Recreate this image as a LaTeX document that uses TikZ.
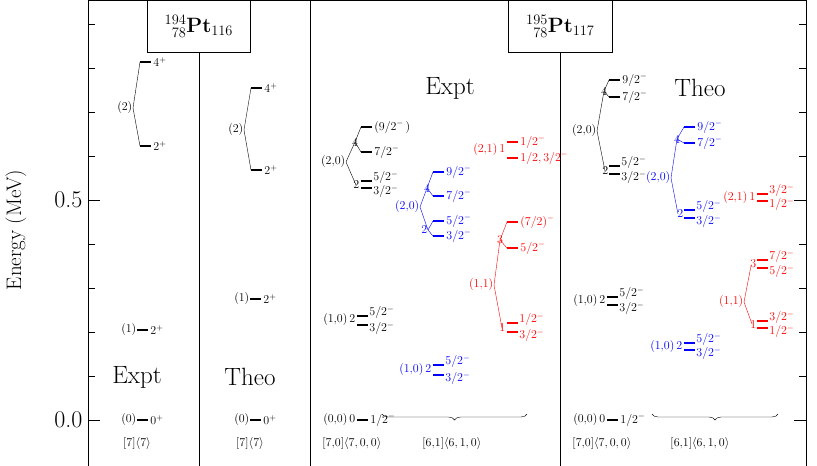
\documentclass[tikz,border=0pt]{standalone}
\usepackage{amsmath}
\usetikzlibrary{positioning,decorations.pathreplacing,calc}
% one unit = one pixel of the reference, y downwards
\newcommand{\lev}[4][black]{%
  \draw[levbar,#1] (#2,#3) -- ++(11,0) node[right,lab,#1,inner sep=1pt]{$#4$};}
% tight doublets: upper label sits above, lower one below
\newcommand{\levu}[4][black]{%
  \draw[levbar,#1] (#2,#3) -- ++(11,0) node[anchor=south west,lab,#1,inner sep=0pt,yshift=-4pt]{$#4$};}
\newcommand{\levd}[4][black]{%
  \draw[levbar,#1] (#2,#3) -- ++(11,0) node[anchor=north west,lab,#1,inner sep=0pt,yshift=4pt]{$#4$};}
\newcommand{\branch}[4][black]{%
  \draw[#1,thin] (#2) -- (#3) (#2) -- (#4);}
\tikzset{
  levbar/.style={line width=2.8pt},
  lab/.style={font=\fontsize{12}{12}\selectfont},
  vlab/.style={font=\fontsize{12}{12}\selectfont,inner sep=0.5pt},
  big/.style={font=\fontsize{25}{25}\selectfont},
  frame/.style={line width=0.8pt},
}
\begin{document}
\begin{tikzpicture}[x=1pt,y=-1pt]
    \useasboundingbox (0,0) rectangle (817,466);
    % frame and panels
    \draw[frame] (88,0) rectangle (806,466);
    \draw[frame] (310,0) -- (310,466);
    \draw[frame] (199,52) -- (199,466);
    \draw[frame] (560,52) -- (560,466);
    \node[draw,frame,fill=white,minimum width=103pt,minimum height=52pt,anchor=north west,font=\fontsize{22}{22}\selectfont,inner sep=1pt] (ttl194) at (147,0)
        {${}^{194}_{\phantom{1}78}\mathbf{Pt}_{116}$};
    \node[draw,frame,fill=white,minimum width=104pt,minimum height=52pt,anchor=north west,font=\fontsize{22}{22}\selectfont,inner sep=1pt] (ttl195) at (508,0)
        {${}^{195}_{\phantom{1}78}\mathbf{Pt}_{117}$};
    % energy axis
    \foreach \e in {0,1,...,9} {
        \draw (88,420-44*\e) -- ++(7,0);
        \draw (806,420-44*\e) -- ++(-7,0);
    }
    \foreach \e in {0,5} {
        \draw (88,420-44*\e) -- ++(12,0);
        \draw (806,420-44*\e) -- ++(-12,0);
    }
    \node[font=\fontsize{24}{24}\selectfont,left] (e0) at (86,420) {0.0};
    \node[font=\fontsize{24}{24}\selectfont,left] (e5) at (86,200) {0.5};
    \node[font=\fontsize{21}{21}\selectfont,rotate=90] (elab) at (16,230) {Energy (MeV)};

    % 194Pt expt
    \node[big] (ex194) at (137,377) {Expt};
    \lev{137}{420}{0^+} \node[vlab,left] (g0a) at (137,420) {(0)};
    \lev{137}{330}{2^+} \node[vlab,left] (g1a) at (137,330) {(1)};
    \lev{140}{146}{2^+} \lev{140}{62}{4^+}
    \coordinate (v2a) at (133,108);
    \node[vlab,left] (g2a) at (v2a) {(2)};
    \branch{v2a}{140,62}{140,146}
    \node[lab] (q194a) at (137,443) {[7]$\langle 7\rangle$};

    % 194Pt theo
    \node[big] (th194) at (250,377) {Theo};
    \lev{250}{420}{0^+} \node[vlab,left] (g0b) at (250,420) {(0)};
    \lev{250}{299}{2^+} \node[vlab,left] (g1b) at (250,299) {(1)};
    \lev{251}{170}{2^+} \lev{251}{88}{4^+}
    \coordinate (v2b) at (244,130);
    \node[vlab,left] (g2b) at (v2b) {(2)};
    \branch{v2b}{251,88}{251,170}
    \node[lab] (q194b) at (250,443) {[7]$\langle 7\rangle$};

    % 195Pt expt
    \node[big] (ex195) at (450,88) {Expt};
    \lev{357}{420}{1/2^-} \node[vlab,left] (a00) at (356,420) {(0,0)\,0};
    \levu{357}{316}{5/2^-} \levd{357}{325}{3/2^-}
    \node[vlab,left] (a10) at (356,320) {(1,0)\,2};
    \lev{361}{127}{(9/2^-\,)} \lev{361}{152}{7/2^-}
    \levu{361}{181}{5/2^-} \levd{361}{188}{3/2^-}
    \coordinate (a20) at (346,162); \coordinate (a4) at (355,142); \coordinate (a2) at (356,185);
    \node[vlab,left] (a20l) at (a20) {(2,0)};
    \node[vlab] (a4l) at (a4) {4}; \node[vlab,left] (a2l) at (360,185) {2};
    \branch{a20}{a4}{a2}
    \branch{a4}{361,127}{361,152}
    % blue
    \lev[blue]{433}{172}{9/2^-} \lev[blue]{433}{196}{7/2^-}
    \lev[blue]{433}{221}{5/2^-} \lev[blue]{433}{236}{3/2^-}
    \coordinate (b20) at (420,207); \coordinate (b4) at (427,188); \coordinate (b2) at (428,230);
    \node[vlab,left,blue] (b20l) at (b20) {(2,0)};
    \node[vlab,blue] (b4l) at (b4) {4}; \node[vlab,left,blue] (b2l) at (b2) {2};
    \branch[blue]{b20}{b4}{b2}
    \branch[blue]{b4}{433,172}{433,196}
    \branch[blue]{b2}{433,221}{433,236}
    \levu[blue]{433}{365}{5/2^-} \levd[blue]{433}{375}{3/2^-}
    \node[vlab,left,blue] (b10) at (432,370) {(1,0)\,2};
    % red
    \lev[red]{507}{142}{1/2^-} \lev[red]{507}{158}{1/2,3/2^-}
    \node[vlab,left,red] (r21) at (506,150) {(2,1)\,1};
    \lev[red]{507}{222}{(7/2)^-} \lev[red]{507}{248}{5/2^-}
    \levu[red]{507}{323}{1/2^-} \levd[red]{507}{332}{3/2^-}
    \coordinate (r11) at (494,285); \coordinate (r3) at (500,240); \coordinate (r1) at (502,328);
    \node[vlab,left,red] (r11l) at (r11) {(1,1)};
    \node[vlab,red] (r3l) at (r3) {3}; \node[vlab,left,red] (r1l) at (506,328) {1};
    \branch[red]{r11}{r3}{r1}
    \branch[red]{r3}{507,222}{507,248}
    \draw[decorate,decoration={brace,mirror,amplitude=6pt}] (382,414) -- (527,414);
    \node[lab] (q195a) at (352,443) {[7,0]$\langle 7,0,0\rangle$};
    \node[lab] (q195b) at (452,443) {[6,1]$\langle 6,1,0\rangle$};

    % 195Pt theo
    \node[big] (th195) at (700,88) {Theo};
    \lev{607}{420}{1/2^-} \node[vlab,left] (t00) at (606,420) {(0,0)\,0};
    \levu{607}{297}{5/2^-} \levd{607}{305}{3/2^-}
    \node[vlab,left] (t10) at (606,301) {(1,0)\,2};
    \lev{609}{80}{9/2^-} \lev{609}{97}{7/2^-}
    \levu{609}{166}{5/2^-} \levd{609}{174}{3/2^-}
    \coordinate (t20) at (597,131); \coordinate (t4) at (604,91); \coordinate (t2) at (605,171);
    \node[vlab,left] (t20l) at (t20) {(2,0)};
    \node[vlab] (t4l) at (t4) {4}; \node[vlab,left] (t2l) at (609,171) {2};
    \branch{t20}{t4}{t2}
    \branch{t4}{609,80}{609,97}
    % blue
    \lev[blue]{684}{127}{9/2^-} \lev[blue]{684}{143}{7/2^-}
    \levu[blue]{684}{210}{5/2^-} \levd[blue]{684}{218}{3/2^-}
    \coordinate (u20) at (671,178); \coordinate (u4) at (677,139); \coordinate (u2) at (678,214);
    \node[vlab,left,blue] (u20l) at (u20) {(2,0)};
    \node[vlab,blue] (u4l) at (u4) {4}; \node[vlab,left,blue] (u2l) at (684,214) {2};
    \branch[blue]{u20}{u4}{u2}
    \branch[blue]{u4}{684,127}{684,143}
    \levu[blue]{684}{343}{5/2^-} \levd[blue]{684}{350}{3/2^-}
    \node[vlab,left,blue] (u10) at (683,347) {(1,0)\,2};
    % red
    \levu[red]{757}{194}{3/2^-} \levd[red]{757}{201}{1/2^-}
    \node[vlab,left,red] (s21) at (756,198) {(2,1)\,1};
    \levu[red]{757}{260}{7/2^-} \levd[red]{757}{268}{5/2^-}
    \levu[red]{757}{321}{3/2^-} \levd[red]{757}{328}{1/2^-}
    \coordinate (s11) at (744,302); \coordinate (s3) at (751,266); \coordinate (s1) at (752,324);
    \node[vlab,left,red] (s11l) at (s11) {(1,1)};
    \node[vlab,left,red] (s3l) at (757,264) {3}; \node[vlab,left,red] (s1l) at (757,325) {1};
    \branch[red]{s11}{s3}{s1}
    \draw[decorate,decoration={brace,mirror,amplitude=6pt}] (652,414) -- (778,414);
    \node[lab] (q195c) at (602,443) {[7,0]$\langle 7,0,0\rangle$};
    \node[lab] (q195d) at (700,443) {[6,1]$\langle 6,1,0\rangle$};
\end{tikzpicture}
\end{document}
